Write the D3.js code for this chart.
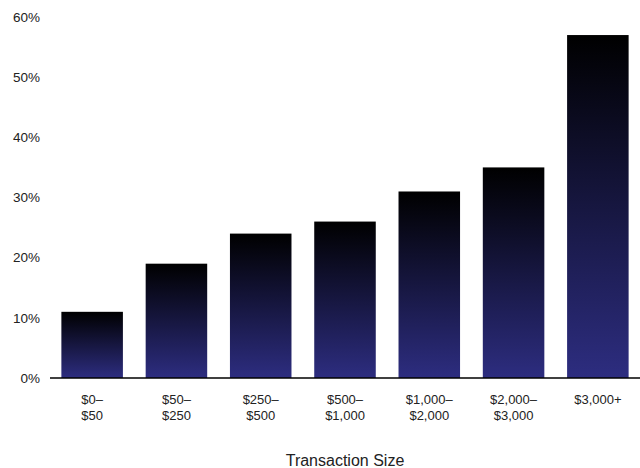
<!DOCTYPE html>
<html lang="en">
<head>
<meta charset="UTF-8">
<title>Transaction Size</title>
<script src="https://d3js.org/d3.v7.min.js"></script>
<style>
    body { margin: 0; background: #fff; }
    text { font-family: "Liberation Sans", Arial, sans-serif; fill: #222; }
</style>
</head>
<body>
<script>
const categories = [["$0–", "$50"], ["$50–", "$250"], ["$250–", "$500"], ["$500–", "$1,000"],
                    ["$1,000–", "$2,000"], ["$2,000–", "$3,000"], ["$3,000+"]];
const values = [11, 19, 24, 26, 31, 35, 57];
const yTicks = [0, 10, 20, 30, 40, 50, 60];
const xTitle = "Transaction Size";

const width = 640, height = 468;
const margin = {top: 17, right: 0, bottom: 90, left: 50};

const svg = d3.select("body").append("svg")
    .attr("width", width)
    .attr("height", height);

const defs = svg.append("defs");
const grad = defs.append("linearGradient")
    .attr("id", "barGrad")
    .attr("x1", 0).attr("y1", 0).attr("x2", 0).attr("y2", 1);
grad.append("stop").attr("offset", "0%").attr("stop-color", "#000000");
grad.append("stop").attr("offset", "100%").attr("stop-color", "#2d2d80");

const x = d3.scaleBand()
    .domain(d3.range(categories.length))
    .range([margin.left, width - margin.right])
    .paddingInner(0.27)
    .paddingOuter(0.135);

const y = d3.scaleLinear()
    .domain([0, 60])
    .range([height - margin.bottom, margin.top]);

// bars
svg.append("g")
    .selectAll("rect")
    .data(values)
    .join("rect")
    .attr("x", (d, i) => x(i))
    .attr("y", d => y(d))
    .attr("width", x.bandwidth())
    .attr("height", d => y(0) - y(d))
    .attr("fill", "url(#barGrad)");

// y labels
svg.append("g")
    .selectAll("text")
    .data(yTicks)
    .join("text")
    .attr("x", 40)
    .attr("y", d => y(d))
    .attr("dy", "0.35em")
    .attr("text-anchor", "end")
    .style("font-size", "13.5px")
    .text(d => d + "%");

// baseline
svg.append("line")
    .attr("x1", margin.left)
    .attr("x2", width - margin.right)
    .attr("y1", y(0))
    .attr("y2", y(0))
    .attr("stroke", "#000")
    .attr("stroke-width", 1.5);

// x labels
const xl = svg.append("g")
    .selectAll("text")
    .data(categories)
    .join("text")
    .attr("text-anchor", "middle")
    .style("font-size", "13px")
    .attr("transform", (d, i) => `translate(${x(i) + x.bandwidth() / 2},${y(0) + 26})`);
xl.selectAll("tspan")
    .data(d => d)
    .join("tspan")
    .attr("x", 0)
    .attr("y", (d, i) => i * 16)
    .text(d => d);

svg.append("text")
    .attr("x", (margin.left + width - margin.right) / 2)
    .attr("y", 466)
    .attr("text-anchor", "middle")
    .style("font-size", "16px")
    .text(xTitle);
</script>
</body>
</html>
